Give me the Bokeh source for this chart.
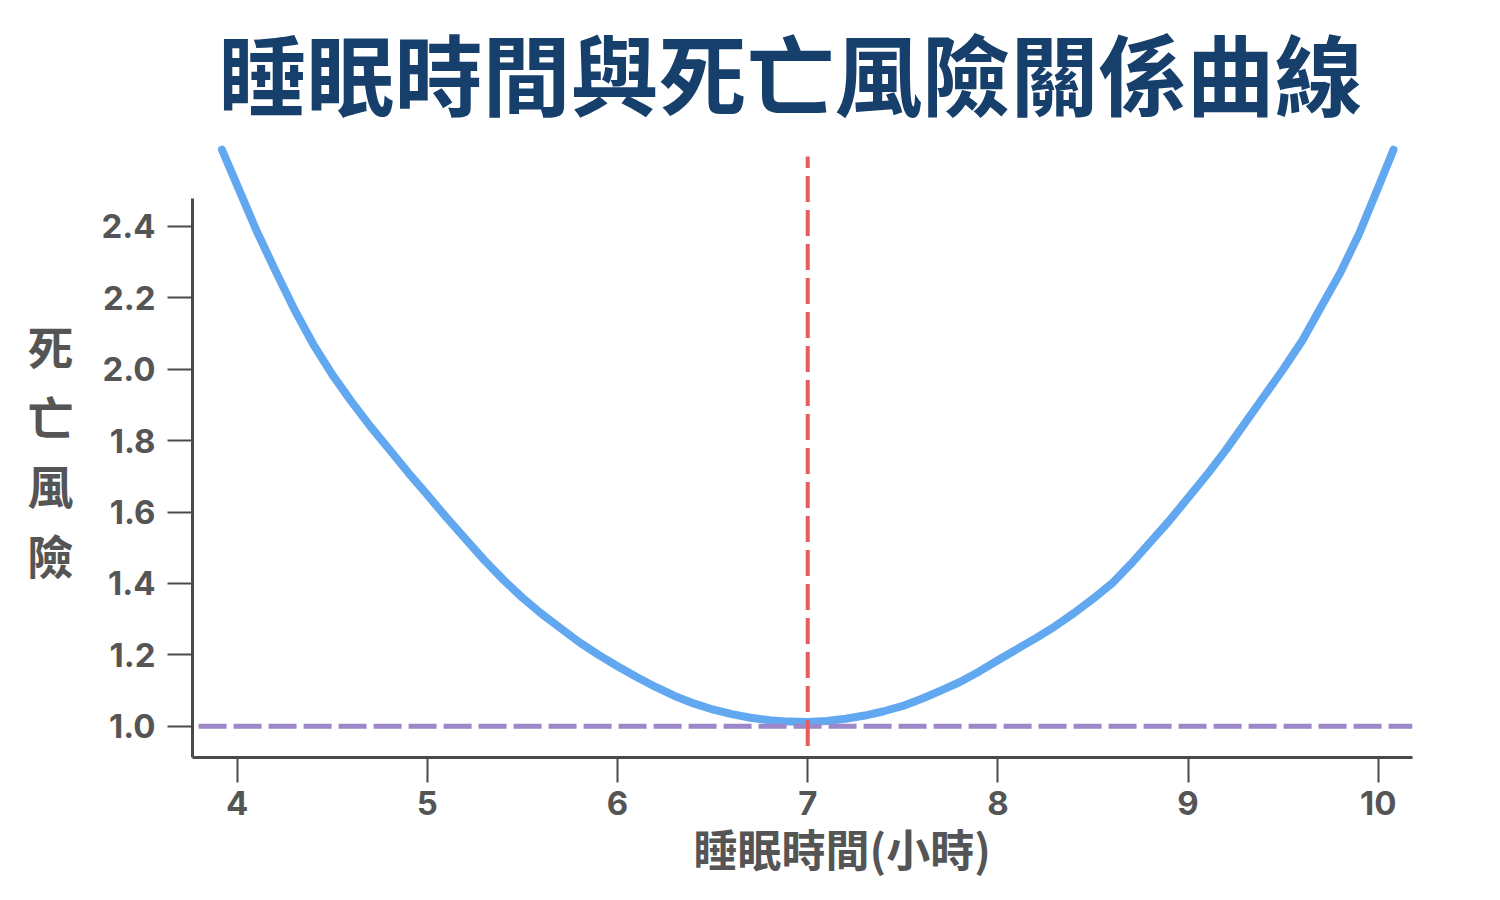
from bokeh.plotting import figure
from bokeh.models import Range1d, FixedTicker, PrintfTickFormatter, Title, ColumnDataSource
from bokeh.embed import file_html
from bokeh.resources import INLINE

# ---- data ----
title_text = "睡眠時間與死亡風險關係曲線"
x_label_text = "睡眠時間(小時)"
y_label_text = "死\n亡\n風\n險"

sleep_hours = [3.92, 4.0, 4.1, 4.2, 4.3, 4.4, 4.5, 4.6, 4.7, 4.8, 4.9,
               5.0, 5.1, 5.2, 5.3, 5.4, 5.5, 5.6, 5.7, 5.8, 5.9,
               6.0, 6.1, 6.2, 6.3, 6.4, 6.5, 6.6, 6.7, 6.8, 6.9,
               7.0, 7.1, 7.2, 7.3, 7.4, 7.5, 7.6, 7.7, 7.8, 7.9,
               8.0, 8.1, 8.2, 8.3, 8.4, 8.5, 8.6, 8.7, 8.8, 8.9,
               9.0, 9.1, 9.2, 9.3, 9.4, 9.5, 9.6, 9.7, 9.8, 9.9,
               10.0, 10.08]
mortality_risk = [2.615, 2.515, 2.39, 2.277, 2.168, 2.07, 1.985, 1.91, 1.84, 1.775, 1.71,
                  1.648, 1.585, 1.525, 1.465, 1.41, 1.36, 1.315, 1.275, 1.235, 1.2,
                  1.168, 1.138, 1.11, 1.085, 1.064, 1.047, 1.034, 1.024, 1.017, 1.013,
                  1.012, 1.015, 1.021, 1.03, 1.042, 1.057, 1.077, 1.1, 1.124, 1.153,
                  1.185, 1.216, 1.247, 1.28, 1.317, 1.357, 1.4, 1.455, 1.515, 1.575,
                  1.64, 1.705, 1.775, 1.85, 1.925, 2.0, 2.08, 2.175, 2.27, 2.38,
                  2.51, 2.615]

x_ticks = [4, 5, 6, 7, 8, 9, 10]
y_ticks = [1.0, 1.2, 1.4, 1.6, 1.8, 2.0, 2.2, 2.4]

optimal_sleep = 7.0
optimal_line_span = [0.945, 2.596]
baseline_risk = 1.0
baseline_span = [3.797, 10.18]

# ---- figure ----
W, H = 1484, 884
p = figure(width=W, height=H, output_backend="svg", toolbar_location=None,
           x_range=Range1d(3.765, 10.18), y_range=Range1d(0.9125, 2.638),
           min_border_left=192, min_border_right=72, min_border_top=140, min_border_bottom=127)
p.outline_line_color = None
p.xgrid.visible = False
p.ygrid.visible = False
p.background_fill_color = "white"
p.border_fill_color = "white"

axis_color = "#4a4a4a"
label_color = "#555555"

for ax in (p.xaxis[0], p.yaxis[0]):
    ax.axis_line_color = axis_color
    ax.axis_line_width = 3
    ax.major_tick_line_color = axis_color
    ax.major_tick_line_width = 2
    ax.major_tick_out = 25
    ax.major_tick_in = 0
    ax.minor_tick_line_color = None
    ax.major_label_text_font = "Inter"
    ax.major_label_text_font_style = "bold"
    ax.major_label_text_font_size = "33px"
    ax.major_label_text_color = label_color

p.xaxis[0].ticker = FixedTicker(ticks=x_ticks)
p.xaxis[0].major_label_standoff = 8
p.yaxis[0].ticker = FixedTicker(ticks=y_ticks)
p.yaxis[0].formatter = PrintfTickFormatter(format="%.1f")
p.yaxis[0].major_label_standoff = 12
p.yaxis[0].bounds = (0.9125, 2.478)

# y axis label: stacked characters
p.yaxis[0].axis_label = y_label_text
p.yaxis[0].axis_label_orientation = "horizontal"
p.yaxis[0].axis_label_standoff = 25
p.yaxis[0].axis_label_text_font = "Noto Sans CJK TC"
p.yaxis[0].axis_label_text_font_style = "bold"
p.yaxis[0].axis_label_text_font_size = "46px"
p.yaxis[0].axis_label_text_line_height = 1.06
p.yaxis[0].axis_label_text_color = label_color

# curve
src = ColumnDataSource(data=dict(x=sleep_hours, y=mortality_risk))
p.line("x", "y", source=src, line_color="#62a8f0", line_width=8,
       line_cap="round", line_join="round")

# baseline (purple dashed)
p.segment(x0=[baseline_span[0]], y0=[baseline_risk], x1=[baseline_span[1]], y1=[baseline_risk],
          line_color="#9b87c9", line_width=5, line_dash="28 7")

# optimal sleep (red dashed)
p.segment(x0=[optimal_sleep], y0=[optimal_line_span[0]], x1=[optimal_sleep], y1=[optimal_line_span[1]],
          line_color="#e35d5f", line_width=4, line_dash="26 8")

# title
p.title = Title(text=title_text, align="left", offset=26, vertical_align="top", standoff=12,
                text_font="Noto Sans CJK TC", text_font_style="bold", text_font_size="88px",
                text_color="#163f6c")

# x axis label as a below-panel title for exact horizontal placement
p.add_layout(Title(text=x_label_text, align="left", offset=501, vertical_align="top", standoff=-4,
                   text_font="Noto Sans CJK TC", text_font_style="bold", text_font_size="44px",
                   text_color=label_color), "below")

open("out.html", "w").write(file_html(p, INLINE))
